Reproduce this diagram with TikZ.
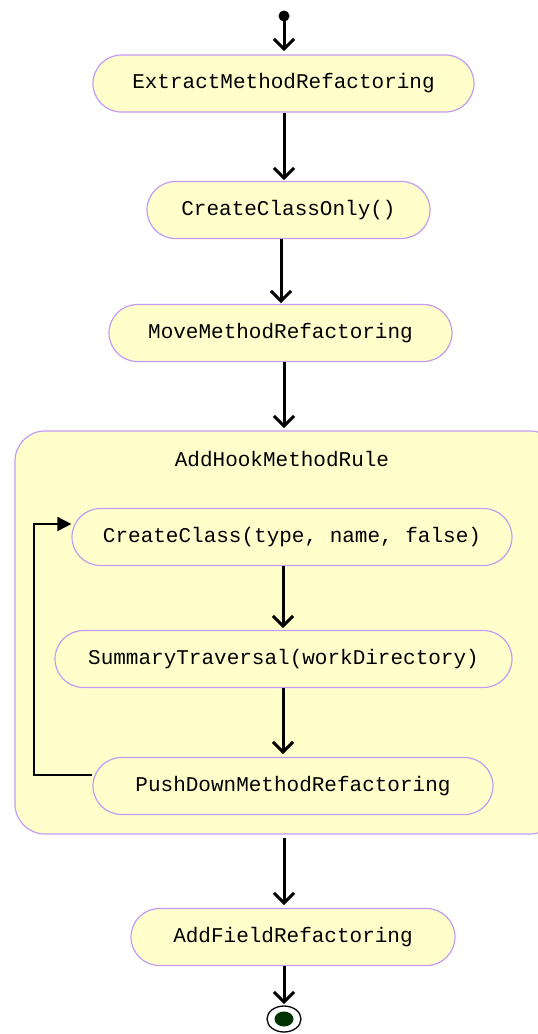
\documentclass[tikz,border=0pt]{standalone}
\usepackage{fontspec}
\setmonofont{Liberation Mono}
\usepackage{tikz}
\usetikzlibrary{arrows.meta,positioning,calc}
\definecolor{actfill}{HTML}{FFFFCC}
\definecolor{actline}{HTML}{C49BF2}
\definecolor{ink}{HTML}{000000}
\definecolor{endfill}{HTML}{003300}
\tikzset{
  act/.style  = {rectangle, rounded corners=28.5pt, draw=actline, fill=actfill, line width=1.2pt,
                 text=ink, align=center, font=\fontsize{21}{24}\selectfont\ttfamily,
                 inner sep=0pt, minimum height=57pt},
  grp/.style  = {rectangle, rounded corners=30pt, draw=actline, fill=actfill, line width=1.2pt},
  fl/.style   = {-{Straight Barb[length=10pt,width=20pt,line width=3pt]}, line width=3pt, draw=ink},
  back/.style = {-{Triangle[length=14pt,width=14pt]}, line width=1.8pt, draw=ink},
  ttl/.style  = {font=\fontsize{21}{24}\selectfont\ttfamily, text=ink},
}
\begin{document}
\begin{tikzpicture}[x=1pt, y=-1pt]
\useasboundingbox (0,0) rectangle (538,1034);

% the composite state goes first, behind everything else
\draw[grp] (15,431) rectangle (560,834);
\node[ttl] (hook) at (282,459) {AddHookMethodRule};

\fill[ink] (284,16) circle (5.5pt);
\coordinate (start) at (284,21);

\node[act, minimum width=381pt] (extract) at (283.5,83.5) {ExtractMethodRefactoring};
\node[act, minimum width=283pt] (only)    at (288.5,210)  {CreateClassOnly()};
\node[act, minimum width=343pt] (move)    at (280.5,333)  {MoveMethodRefactoring};
\node[act, minimum width=440pt] (create)  at (292,537)    {CreateClass(type, name, false)};
\node[act, minimum width=457pt] (summary) at (283.5,659)  {SummaryTraversal(workDirectory)};
\node[act, minimum width=400pt] (push)    at (293,786)    {PushDownMethodRefactoring};
\node[act, minimum width=324pt] (field)   at (293,937)    {AddFieldRefactoring};

% final state
\draw[ink, line width=1.3pt, fill=white] (284,1019) ellipse (17pt and 13pt);
\fill[endfill] (284,1019) ellipse (9.5pt and 7.5pt);
\coordinate (stop) at (284,1004);

\coordinate (grptop) at (284,428);
\coordinate (grpbot) at (284,838);

\draw[fl] (start) -- (284,51);
\draw[fl] (284,113) -- (284,180);
\draw[fl] (281,239) -- (281,303);
\draw[fl] (284,362) -- (grptop);
\draw[fl] (283,566) -- (283,628);
\draw[fl] (283,688) -- (283,754);
\draw[fl] (grpbot) -- (284,905);
\draw[fl] (284,966) -- (stop);

% loop back from the last inner step
\draw[back] ([yshift=11pt]push.west) -- (34,775) -- (34,524) -- ([yshift=13pt]create.west);
\end{tikzpicture}
\end{document}
